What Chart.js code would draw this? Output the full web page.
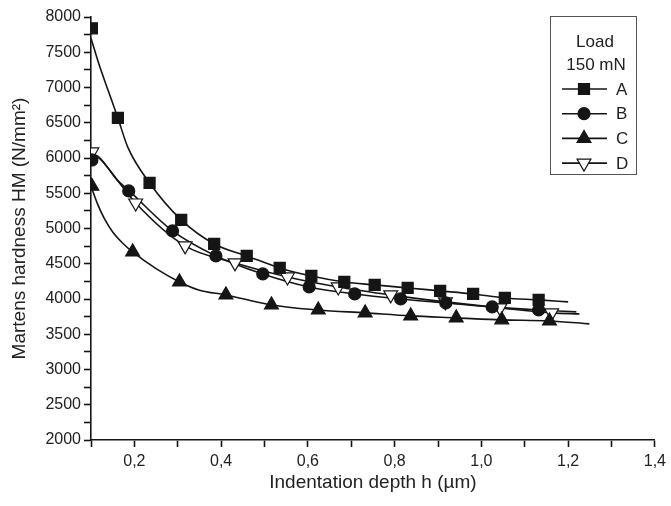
<!DOCTYPE html>
<html>
<head>
<meta charset="utf-8">
<script src="https://cdn.jsdelivr.net/npm/chart.js@4.4.1/dist/chart.umd.min.js"></script>
<style>
  html, body { margin: 0; padding: 0; background: #fff; }
  #wrap { width: 671px; height: 506px; }
</style>
</head>
<body>
<div id="wrap"><canvas id="hmChart" width="671" height="506"></canvas></div>
<script>
// [h (µm), HM (N/mm²)]
const seriesNames = ["A", "B", "C", "D"];

const curveA = [[0.1, 7700], [0.12, 7300], [0.14, 6950], [0.162, 6568], [0.185, 6150],
  [0.235, 5646], [0.308, 5122], [0.384, 4781], [0.459, 4611], [0.535, 4441], [0.608, 4327],
  [0.684, 4242], [0.754, 4200], [0.83, 4157], [0.905, 4115], [0.981, 4072], [1.054, 4015],
  [1.132, 3987], [1.2, 3959]];
const marksA = [[0.102, 7840], [0.162, 6568], [0.235, 5646], [0.308, 5122], [0.384, 4781], [0.459, 4611],
  [0.535, 4441], [0.608, 4327], [0.684, 4242], [0.754, 4200], [0.83, 4157], [0.905, 4115],
  [0.981, 4072], [1.054, 4015], [1.132, 3987]];

const curveB = [[0.1, 6000], [0.112, 6015], [0.13, 5930], [0.16, 5690], [0.187, 5540], [0.288, 4966],
  [0.388, 4611], [0.496, 4356], [0.603, 4171], [0.708, 4072], [0.814, 4001], [0.918, 3945],
  [1.025, 3888], [1.132, 3845], [1.219, 3817]];
const marksB = [[0.102, 5972], [0.187, 5533], [0.288, 4966], [0.388, 4611], [0.496, 4356], [0.603, 4171],
  [0.708, 4072], [0.814, 4001], [0.918, 3945], [1.025, 3888], [1.132, 3845]];

const curveC = [[0.1, 5600], [0.115, 5350], [0.13, 5150], [0.15, 4950], [0.175, 4780],
  [0.196, 4668], [0.25, 4430], [0.304, 4242], [0.35, 4125], [0.411, 4058], [0.516, 3916], [0.624, 3845],
  [0.732, 3803], [0.837, 3760], [0.942, 3732], [1.047, 3704], [1.157, 3689], [1.249, 3647]];
const marksC = [[0.102, 5600], [0.196, 4668], [0.304, 4242], [0.411, 4058], [0.516, 3916], [0.624, 3845],
  [0.732, 3803], [0.837, 3760], [0.942, 3732], [1.047, 3704], [1.157, 3689]];

const curveD = [[0.1, 6050], [0.115, 6030], [0.14, 5850], [0.203, 5362], [0.317, 4753], [0.432, 4512],
  [0.553, 4313], [0.67, 4171], [0.791, 4058], [0.917, 3959], [1.043, 3874], [1.162, 3803],
  [1.226, 3789]];
const marksD = [[0.102, 6086], [0.203, 5362], [0.317, 4753], [0.432, 4512], [0.553, 4313], [0.67, 4171],
  [0.791, 4058], [0.917, 3959], [1.043, 3874], [1.162, 3803]];

const xMin = 0.1, xMax = 1.4, xStep = 0.1;
const yMin = 2000, yMax = 8000, yStep = 250;

const ink = "#151515";
const styles = {
  A: { pointStyle: "rect", radius: 7.8, rotation: 0, fill: ink },
  B: { pointStyle: "circle", radius: 6, rotation: 0, fill: ink },
  C: { pointStyle: "triangle", radius: 8, rotation: 0, fill: ink },
  D: { pointStyle: "triangle", radius: 8, rotation: 180, fill: "#fff" }
};

const toXY = arr => arr.map(p => ({ x: p[0], y: p[1] }));
const curves = { A: curveA, B: curveB, C: curveC, D: curveD };
const marks = { A: marksA, B: marksB, C: marksC, D: marksD };

const datasets = [];
seriesNames.forEach(name => {
  datasets.push({
    label: name + " line",
    data: toXY(curves[name]),
    showLine: true,
    borderColor: ink,
    borderWidth: 1.6,
    pointRadius: 0,
    tension: 0.35,
    cubicInterpolationMode: "monotone",
    order: 2
  });
});
seriesNames.forEach(name => {
  const s = styles[name];
  datasets.push({
    label: name,
    data: toXY(marks[name]),
    showLine: false,
    pointStyle: s.pointStyle,
    pointRadius: s.radius,
    pointRotation: s.rotation,
    pointBackgroundColor: s.fill,
    pointBorderColor: ink,
    pointBorderWidth: 1.2,
    order: 1
  });
});

// legend box drawn by hand (line + marker samples, like the original)
const legendBox = {
  id: "legendBox",
  afterDraw(chart) {
    const ctx = chart.ctx;
    ctx.save();
    ctx.strokeStyle = "#555";
    ctx.lineWidth = 1;
    ctx.strokeRect(550.5, 16.5, 86, 158);
    ctx.fillStyle = "#222";
    ctx.font = "17px 'Liberation Sans', Arial, sans-serif";
    ctx.textAlign = "center";
    ctx.textBaseline = "middle";
    ctx.fillText("Load", 595, 42);
    ctx.fillText("150 mN", 596, 65);
    ctx.textAlign = "left";
    seriesNames.forEach((name, i) => {
      const y = 89 + i * 24.7;
      ctx.strokeStyle = ink;
      ctx.lineWidth = 1.6;
      ctx.beginPath();
      ctx.moveTo(562, y);
      ctx.lineTo(607, y);
      ctx.stroke();
      const s = styles[name];
      ctx.fillStyle = s.fill;
      ctx.strokeStyle = ink;
      ctx.lineWidth = 1.2;
      Chart.helpers.drawPoint(ctx, { pointStyle: s.pointStyle, radius: s.radius, rotation: s.rotation, borderWidth: 1.2 }, 584, y);
      ctx.fillStyle = "#222";
      ctx.fillText(name, 616, y + 1);
    });
    ctx.restore();
  }
};

const tickFont = { family: "'Liberation Sans', Arial, sans-serif", size: 16 };
const titleFont = { family: "'Liberation Sans', Arial, sans-serif", size: 19 };

new Chart(document.getElementById("hmChart").getContext("2d"), {
  type: "scatter",
  data: { datasets },
  plugins: [legendBox],
  options: {
    responsive: false,
    animation: false,
    layout: { padding: { top: 17, right: 13, bottom: 0, left: 0 } },
    plugins: { legend: { display: false }, tooltip: { enabled: false } },
    scales: {
      x: {
        type: "linear",
        min: xMin, max: xMax,
        afterFit: s => { s.height = 66; },
        border: { display: true, color: ink, width: 1.6 },
        grid: { drawOnChartArea: false, drawTicks: true, tickLength: 7, tickColor: ink, tickWidth: 1.6 },
        ticks: {
          stepSize: xStep,
          color: "#222",
          font: tickFont,
          padding: 5,
          maxRotation: 0,
          autoSkip: false,
          callback: v => (Math.round(v * 10) % 2 === 0 ? v.toFixed(1).replace(".", ",") : "")
        },
        title: { display: true, text: "Indentation depth h (µm)", color: "#222", font: titleFont, padding: { top: 0, bottom: 12 } }
      },
      y: {
        type: "linear",
        min: yMin, max: yMax,
        afterFit: s => { s.width = 91; },
        border: { display: true, color: ink, width: 1.6 },
        grid: { drawOnChartArea: false, drawTicks: true, tickLength: 7, tickColor: ink, tickWidth: 1.6 },
        ticks: {
          stepSize: yStep,
          color: "#222",
          font: tickFont,
          padding: 3,
          autoSkip: false,
          callback: v => (v % 500 === 0 ? String(v) : "")
        },
        title: { display: true, text: "Martens hardness HM (N/mm²)", color: "#222", font: titleFont, padding: { top: 8, bottom: 0 } }
      }
    }
  }
});
</script>
</body>
</html>
